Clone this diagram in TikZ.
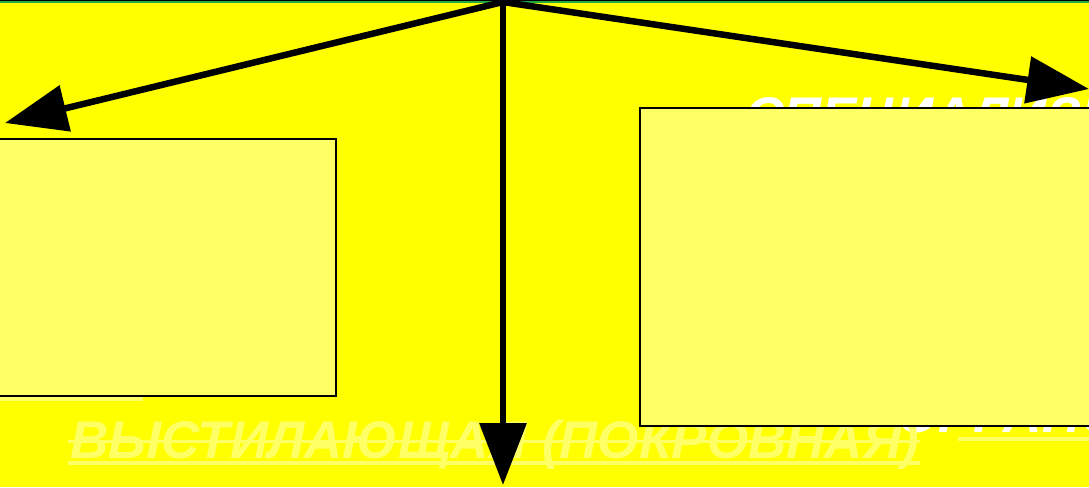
\documentclass[tikz,border=0pt]{standalone}
\usepackage{fontspec}
\setmainfont{Liberation Sans}
\usetikzlibrary{arrows.meta}
\definecolor{bg}{HTML}{FFFF00}
\definecolor{pale}{HTML}{FFFF66}
\definecolor{topgreen}{HTML}{22AA44}
\tikzset{
  bigarrow/.style={line width=6.5pt,-{Triangle[length=62pt,width=46pt]}},
  panel/.style={draw=black,line width=1.8pt,fill=pale},
  title/.style={font=\fontsize{53}{60}\selectfont\bfseries\itshape,inner sep=0pt},
}
\begin{document}
\begin{tikzpicture}[x=1pt,y=-1pt]
\useasboundingbox (0,0) rectangle (1089,487);
\clip (0,0) rectangle (1089,487);
\fill[bg] (0,0) rectangle (1089,487);
% top line
\fill[black] (0,0) rectangle (1089,3.5);
\fill[topgreen] (0,0.8) rectangle (1089,2.6);
% texts behind panels
\node[title,text=white,anchor=base west] (spec) at (745,134) {СПЕЦИАЛИЗИРОВАННАЯ};
\node[title,text=white,anchor=base east] (org) at (1160,432) {ОРГАНОВ};
\fill[pale] (958,437) rectangle (1089,441);
\fill[pale] (0,397) rectangle (143,401);
% main label
\node[title,text=pale,anchor=base west] (main) at (70,458) {ВЫСТИЛАЮЩАЯ (ПОКРОВНАЯ)};
\fill[pale] (68,439.5) rectangle (main.east |- 0,442.5);
\fill[pale] (68,461) rectangle (main.east |- 0,465);
% panels
\node[panel,minimum width=347pt,minimum height=257pt,anchor=north east,inner sep=0pt] (left) at (337,138) {};
\node[panel,minimum width=480pt,minimum height=318pt,anchor=north west,inner sep=0pt] (right) at (639,107) {};
% arrows
\coordinate (src) at (503,2);
\coordinate (tl) at (5,123);
\coordinate (tb) at (503,485);
\coordinate (tr) at (1089,89);
\draw[bigarrow] (src) -- (tl);
\draw[bigarrow] (src) -- (tb);
\draw[bigarrow] (src) -- (tr);
\end{tikzpicture}
\end{document}
